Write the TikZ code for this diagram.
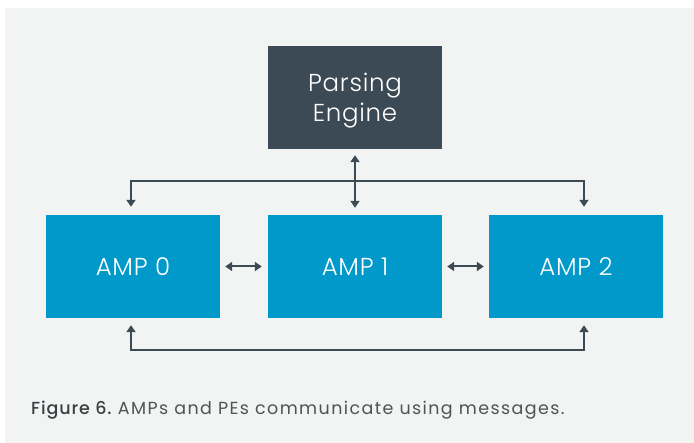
\documentclass[tikz,border=0pt]{standalone}
\usepackage{fontspec}
\setmainfont{Poppins}
\newfontfamily\boxfont[LetterSpace=3]{Poppins Light}
\newfontfamily\capfont[LetterSpace=8]{Poppins}
\newfontfamily\capbold[LetterSpace=5]{Poppins Medium}
\usetikzlibrary{arrows.meta}
\definecolor{panel}{HTML}{F2F3F3}
\definecolor{pedark}{HTML}{3B4A54}
\definecolor{ampblue}{HTML}{0099CA}
\definecolor{wire}{HTML}{3C4A53}
\definecolor{captxt}{HTML}{4F5457}
\definecolor{capdark}{HTML}{3A3F42}
\tikzset{
  block/.style={minimum width=174pt, minimum height=103pt, inner sep=0pt,
    text=white, font=\boxfont\fontsize{24.5}{30}\selectfont, align=center},
  peblock/.style={block, fill=pedark, text height=54pt},
  ampblock/.style={block, fill=ampblue},
  wirearrow/.style={draw=wire, line width=2pt,
    {Triangle[length=7pt,width=9pt]}-{Triangle[length=7pt,width=9pt]}}
}
\begin{document}
\begin{tikzpicture}[x=1pt,y=-1pt]
  % page and grey panel
  \fill[white] (0,0) rectangle (694,443);
  \fill[panel] (5,8) rectangle (694,443);
  \useasboundingbox (0,0) rectangle (694,443);

  % blocks
  \node[peblock]  (pe)   at (355,97.5)  {Parsing\\Engine};
  \node[ampblock] (amp0) at (133,266.5) {AMP 0};
  \node[ampblock] (amp1) at (355,266.5) {AMP 1};
  \node[ampblock] (amp2) at (576,266.5) {AMP 2};

  % message buses
  \coordinate (topbus) at (355,181.5);
  \coordinate (botbus) at (355,350);

  \draw[wirearrow, shorten <=6pt, shorten >=7pt] (pe.south) -- (amp1.north);
  \draw[wirearrow] ([xshift=-2pt,yshift=8pt]amp0.north) |- (topbus)
                   -| ([xshift=8pt,yshift=8pt]amp2.north);
  \draw[wirearrow] ([xshift=-2pt,yshift=-7pt]amp0.south) |- (botbus)
                   -| ([xshift=8pt,yshift=-7pt]amp2.south);
  \draw[wirearrow, shorten <=5pt, shorten >=6pt] (amp0.east) -- (amp1.west);
  \draw[wirearrow, shorten <=5pt, shorten >=5pt] (amp1.east) -- (amp2.west);

  % caption
  \node[anchor=base west, inner sep=0pt, font=\fontsize{17.5}{20}\selectfont]
    (cap) at (31,415)
    {\textcolor{capdark}{\capbold Figure 6.} \textcolor{captxt}{\capfont AMPs and PEs communicate using messages.}};
\end{tikzpicture}
\end{document}
